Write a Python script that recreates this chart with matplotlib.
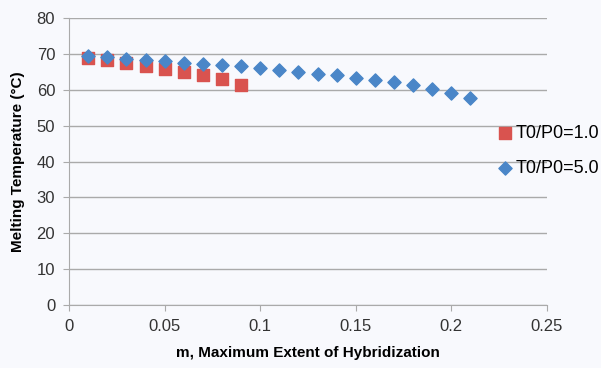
import numpy as np
import matplotlib.pyplot as plt

plt.rcParams['font.family'] = ['Liberation Sans', 'DejaVu Sans']

m_red = [0.01, 0.02, 0.03, 0.04, 0.05, 0.06, 0.07, 0.08, 0.09]
tm_red = [68.9, 68.3, 67.4, 66.6, 65.8, 65.0, 64.0, 62.9, 61.4]

m_blue = [0.01, 0.02, 0.03, 0.04, 0.05, 0.06, 0.07, 0.08, 0.09, 0.10, 0.11,
          0.12, 0.13, 0.14, 0.15, 0.16, 0.17, 0.18, 0.19, 0.20, 0.21]
tm_blue = [69.4, 69.0, 68.7, 68.3, 68.0, 67.6, 67.3, 66.9, 66.5, 66.0, 65.5,
           65.0, 64.5, 64.0, 63.4, 62.8, 62.1, 61.3, 60.3, 59.2, 57.6]

labels = ["T0/P0=1.0", "T0/P0=5.0"]

bg = '#f8f9fd'
fig = plt.figure(figsize=(6.01, 3.68), dpi=100, facecolor=bg)
ax = fig.add_axes([0.115, 0.171, 0.795, 0.780], facecolor=bg)

ax.scatter(m_red, tm_red, marker='s', s=75, color='#d9534f', label=labels[0], zorder=3)
ax.scatter(m_blue, tm_blue, marker='D', s=45, color='#4a86c8', label=labels[1], zorder=4)

ax.set_xlim(0, 0.25)
ax.set_ylim(0, 80)
ax.set_xticks([0, 0.05, 0.1, 0.15, 0.2, 0.25])
ax.set_xticklabels(["0", "0.05", "0.1", "0.15", "0.2", "0.25"])
ax.set_yticks(np.arange(0, 81, 10))
ax.yaxis.grid(True, color='#aaaaaa', linewidth=1)
ax.set_axisbelow(True)
for s in ['top', 'right']:
    ax.spines[s].set_visible(False)
ax.spines['left'].set_color('#aaaaaa')
ax.spines['bottom'].set_color('#aaaaaa')
ax.tick_params(axis='both', labelsize=12, colors='#333333', length=4, color='#aaaaaa')
ax.tick_params(axis='x', pad=6)
ax.tick_params(axis='y', pad=6)

ax.set_xlabel("m, Maximum Extent of Hybridization", fontsize=11, fontweight='bold',
              labelpad=9)
ax.set_ylabel("Melting Temperature (\u00b0C)", fontsize=11, fontweight='bold',
              labelpad=8)

fig.legend(loc='center left', bbox_to_anchor=(498 / 601, 1 - 151 / 368), frameon=False,
           fontsize=13, handlelength=0.8, handletextpad=0.2, labelspacing=1.0,
           borderpad=0, borderaxespad=0)

fig.savefig("out.png", dpi=100, facecolor=bg)
